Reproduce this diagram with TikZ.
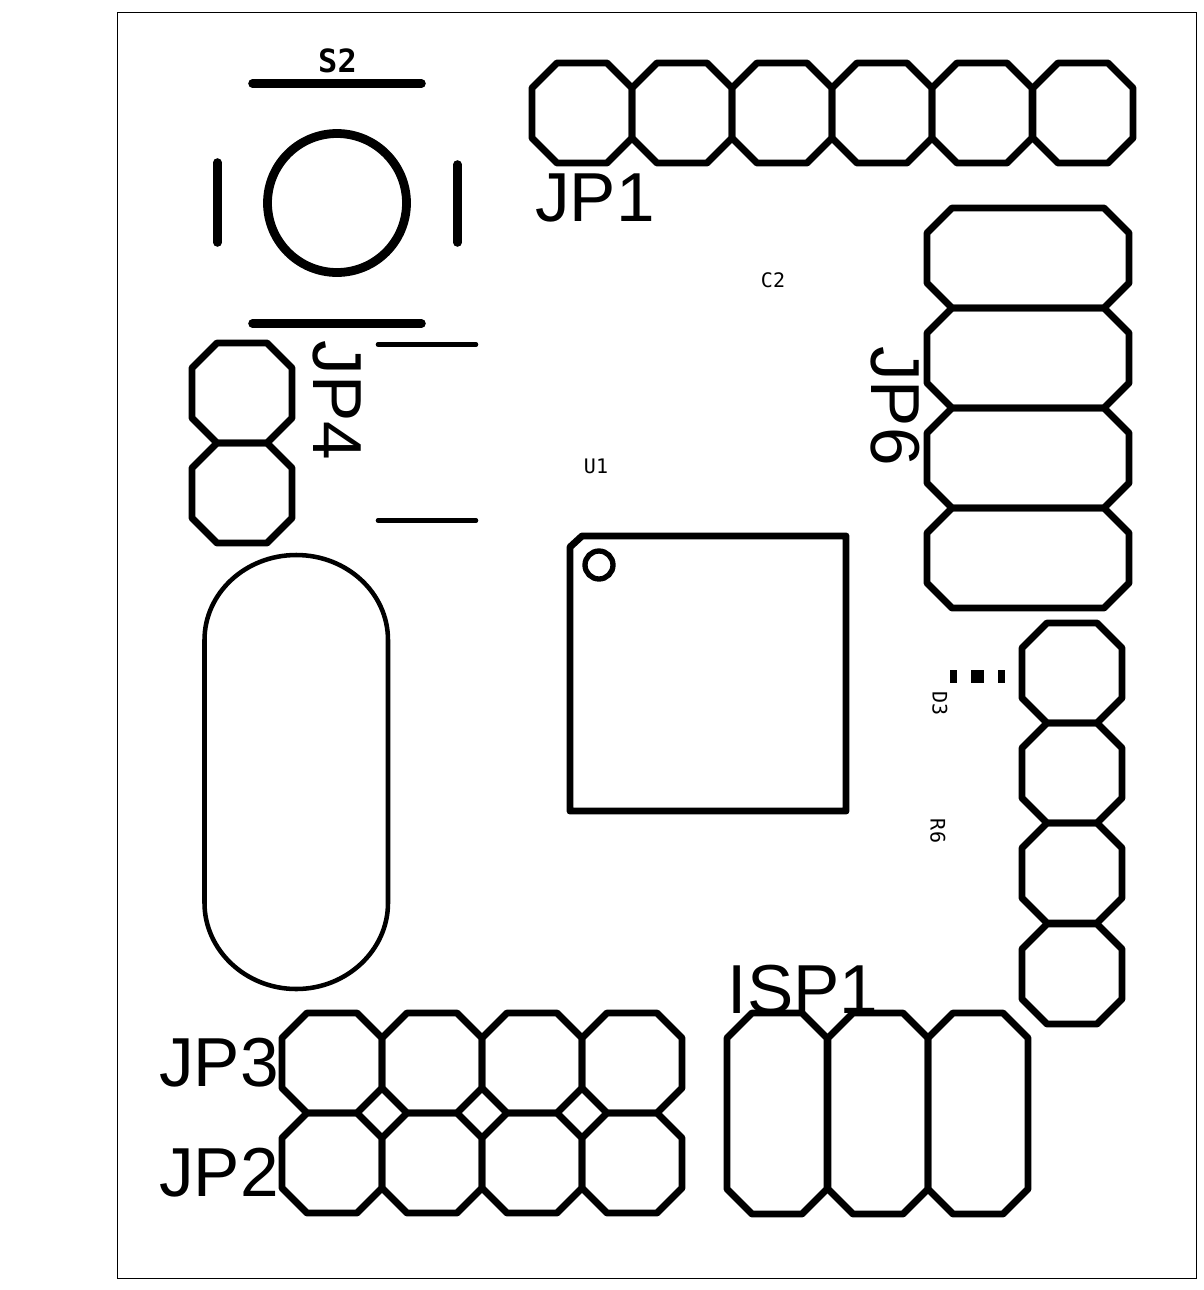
\documentclass[tikz,border=0pt]{standalone}
\usepackage{fontspec}
\setmainfont{Liberation Sans}
\newfontfamily\silkfont{DejaVu Sans Mono}
\tikzset{every picture/.style={line width=0.75pt}}
\tikzset{
	padline/.style={line width=5.2pt, line join=round},
	silkline/.style={line width=6.4pt, line cap=round},
	thinline/.style={line width=3.4pt, line cap=round},
	biglabel/.style={font=\fontsize{52}{52}\selectfont, inner sep=0pt},
	smalllabel/.style={font=\silkfont\fontsize{15}{15}\selectfont, inner sep=0pt},
	% octagon, centre at the origin of the pic
	roundpad/.pic={
		\draw [padline] (-25,-50) -- (25,-50) -- (50,-25) -- (50,25) -- (25,50) -- (-25,50) -- (-50,25) -- (-50,-25) -- cycle ;
	},
	widepad/.pic={
		\draw [padline] (-76,-50) -- (76,-50) -- (101,-25) -- (101,25) -- (76,50) -- (-76,50) -- (-101,25) -- (-101,-25) -- cycle ;
	},
	tallpad/.pic={
		\draw [padline] (-25,-100.5) -- (25,-100.5) -- (50,-75.5) -- (50,75.5) -- (25,100.5) -- (-25,100.5) -- (-50,75.5) -- (-50,-75.5) -- cycle ;
	}
}

\begin{document}
\begin{tikzpicture}[x=0.75pt,y=0.75pt,yscale=-1,xscale=1]
	\useasboundingbox (0,0) rectangle (1204,1290);

	%Board outline
	\draw [line width=0.75pt] (117.5,12.5) rectangle (1196.5,1278.5) ;

	%Switch S2
	\draw [silkline] (252.5,83.5) -- (421.5,83.5) ;
	\draw [silkline] (252.5,323.5) -- (421.5,323.5) ;
	\draw [silkline] (217.5,162.5) -- (217.5,242.5) ;
	\draw [silkline] (457.5,164.5) -- (457.5,242.5) ;
	\draw [line width=6.6pt] (337,203) circle [radius=69.5] ;

	%Lines beside JP4
	\draw [thinline] (378,344.5) -- (476,344.5) ;
	\draw [thinline] (378,520.5) -- (476,520.5) ;

	%Crystal
	\draw [line width=3.4pt] (204.5,640) .. controls (204.5,593) and (245.5,555) .. (296.25,555) .. controls (347,555) and (388,593) .. (388,640) -- (388,903) .. controls (388,950) and (347,989) .. (296.25,989) .. controls (245.5,989) and (204.5,950) .. (204.5,903) -- cycle ;

	%Chip U1
	\draw [padline] (582,536) -- (846,536) -- (846,811) -- (570,811) -- (570,547) -- cycle ;
	\draw [line width=4pt] (599,565) circle [radius=14] ;

	%LED D3
	\fill (950,670) rectangle (957,683) ;
	\fill (971,670) rectangle (984,683) ;
	\fill (998,670) rectangle (1005,683) ;

	%Header JP1
	\pic at (582,113) {roundpad};
	\pic at (682,113) {roundpad};
	\pic at (782,113) {roundpad};
	\pic at (882,113) {roundpad};
	\pic at (982,113) {roundpad};
	\pic at (1083,113) {roundpad};
	%Header JP6
	\pic at (1028,258) {widepad};
	\pic at (1028,358) {widepad};
	\pic at (1028,458) {widepad};
	\pic at (1028,558) {widepad};
	%Header JP4
	\pic at (242,393) {roundpad};
	\pic at (242,493) {roundpad};
	%Right column
	\pic at (1072,673) {roundpad};
	\pic at (1072,773) {roundpad};
	\pic at (1072,873) {roundpad};
	\pic at (1072,974) {roundpad};
	%Header JP3
	\pic at (332,1063) {roundpad};
	\pic at (432,1063) {roundpad};
	\pic at (532,1063) {roundpad};
	\pic at (632,1063) {roundpad};
	%Header JP2
	\pic at (332,1163) {roundpad};
	\pic at (432,1163) {roundpad};
	\pic at (532,1163) {roundpad};
	\pic at (632,1163) {roundpad};
	%Header ISP1
	\pic at (777,1113.5) {tallpad};
	\pic at (878,1113.5) {tallpad};
	\pic at (978,1113.5) {tallpad};

	% Text Node
	\node [font=\silkfont\bfseries\fontsize{24}{24}\selectfont, inner sep=0pt] (labS) at (337.5,61) {S2};
	% Text Node
	\node [biglabel] (labJ1) at (595,197.5) {JP1};
	% Text Node
	\node [biglabel, rotate=-90] (labJ6) at (895,406) {JP6};
	% Text Node
	\node [biglabel, rotate=-90] (labJ4) at (337,400.5) {JP4};
	% Text Node
	\node [biglabel] (labJ3) at (219,1062.5) {JP3};
	% Text Node
	\node [biglabel] (labJ2) at (219,1172.5) {JP2};
	% Text Node
	\node [biglabel] (labI) at (803,990) {ISP1};
	% Text Node
	\node [smalllabel] (labC) at (773,280) {C2};
	% Text Node
	\node [smalllabel] (labU) at (596,466) {U1};
	% Text Node
	\node [smalllabel, rotate=-90] (labD) at (940,703.5) {D3};
	% Text Node
	\node [smalllabel, rotate=-90] (labR) at (938,831) {R6};
\end{tikzpicture}
\end{document}
